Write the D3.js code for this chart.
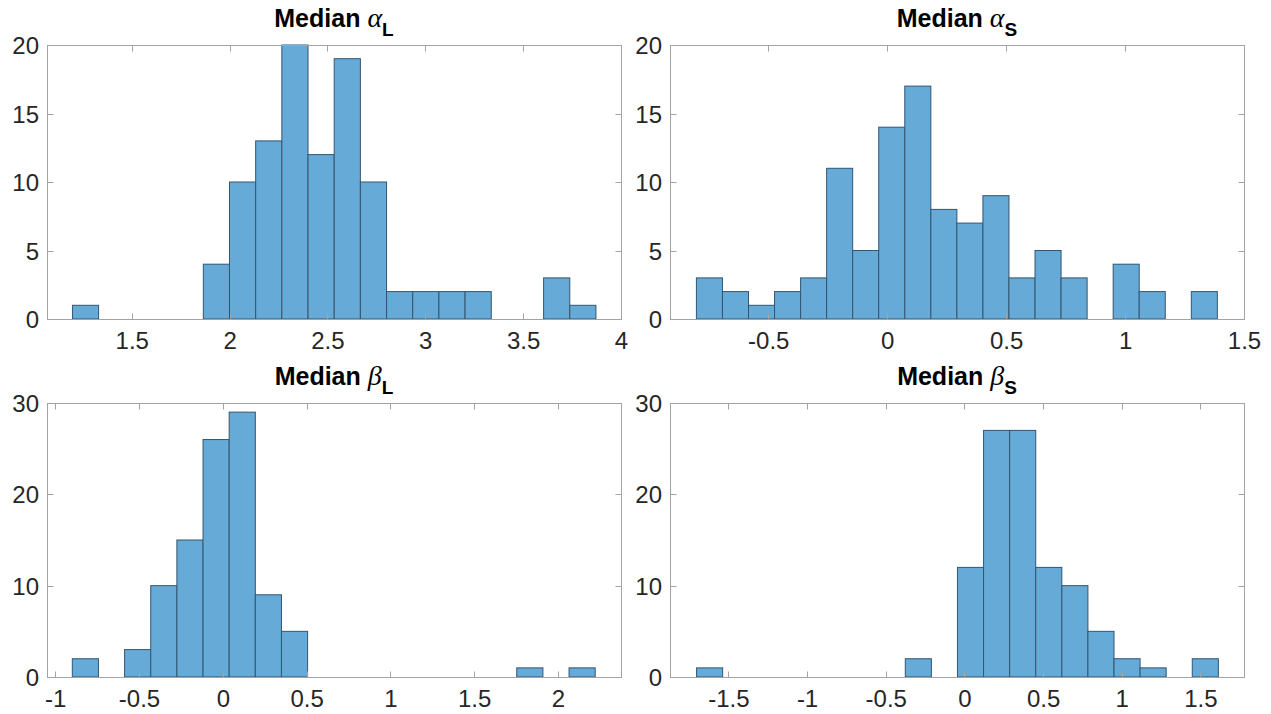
<!DOCTYPE html>
<html>
<head>
<meta charset="utf-8">
<script src="https://cdn.jsdelivr.net/npm/d3@7"></script>
<style>
  body { margin: 0; background: #fff; }
  svg { display: block; }
</style>
</head>
<body>
<script>
// Chart size
const width = 1271;
const height = 714;

// Histogram data (20 bins per panel)
const alphaLStart = 1.197, alphaLWidth = 0.13375;
const alphaLCounts = [1, 0, 0, 0, 0, 4, 10, 13, 20, 12, 19, 10, 2, 2, 2, 2, 0, 0, 3, 1];
const alphaLXlim = [1.067, 4];
const alphaLTicks = [1.5, 2, 2.5, 3, 3.5, 4];

const alphaSStart = -0.802, alphaSWidth = 0.1095;
const alphaSCounts = [3, 2, 1, 2, 3, 11, 5, 14, 17, 8, 7, 9, 3, 5, 3, 0, 4, 2, 0, 2];
const alphaSXlim = [-0.913, 1.5];
const alphaSTicks = [-0.5, 0, 0.5, 1, 1.5];

const betaLStart = -0.898, betaLWidth = 0.156;
const betaLCounts = [2, 0, 3, 10, 15, 26, 29, 9, 5, 0, 0, 0, 0, 0, 0, 0, 0, 1, 0, 1];
const betaLXlim = [-1.049, 2.376];
const betaLTicks = [-1, -0.5, 0, 0.5, 1, 1.5, 2];

const betaSStart = -1.702, betaSWidth = 0.1658;
const betaSCounts = [1, 0, 0, 0, 0, 0, 0, 0, 2, 0, 12, 27, 27, 12, 10, 5, 2, 1, 0, 2];
const betaSXlim = [-1.871, 1.777];
const betaSTicks = [-1.5, -1, -0.5, 0, 0.5, 1, 1.5];

const topYTicks = [0, 5, 10, 15, 20];
const bottomYTicks = [0, 10, 20, 30];

// Panel definitions (layout kept separate from the data)
const panels = [
  { greek: "\u03b1", sub: "L", start: alphaLStart, w: alphaLWidth, counts: alphaLCounts, xlim: alphaLXlim, xticks: alphaLTicks, ymax: 20, yticks: topYTicks, box: [47, 45, 621, 319] },
  { greek: "\u03b1", sub: "S", start: alphaSStart, w: alphaSWidth, counts: alphaSCounts, xlim: alphaSXlim, xticks: alphaSTicks, ymax: 20, yticks: topYTicks, box: [670, 45, 1244, 319] },
  { greek: "\u03b2", sub: "L", start: betaLStart, w: betaLWidth, counts: betaLCounts, xlim: betaLXlim, xticks: betaLTicks, ymax: 30, yticks: bottomYTicks, box: [47, 403, 621, 677] },
  { greek: "\u03b2", sub: "S", start: betaSStart, w: betaSWidth, counts: betaSCounts, xlim: betaSXlim, xticks: betaSTicks, ymax: 30, yticks: bottomYTicks, box: [670, 403, 1244, 677] }
];

const svg = d3.select("body").append("svg")
  .attr("width", width)
  .attr("height", height);

const boxColor = "#a3a3a3";
const textColor = "#262626";
const tickLen = 6;

panels.forEach(p => {
  const [x0, y0, x1, y1] = p.box;
  const x = d3.scaleLinear().domain(p.xlim).range([x0, x1]);
  const y = d3.scaleLinear().domain([0, p.ymax]).range([y1, y0]);

  const g = svg.append("g");

  // bins
  const bins = p.counts.map((c, i) => ({ lo: p.start + i * p.w, hi: p.start + (i + 1) * p.w, c }))
    .filter(b => b.c > 0);

  g.selectAll("rect.bar")
    .data(bins)
    .enter()
    .append("rect")
    .attr("class", "bar")
    .attr("x", d => x(d.lo))
    .attr("y", d => y(d.c))
    .attr("width", d => x(d.hi) - x(d.lo))
    .attr("height", d => y(0) - y(d.c))
    .attr("fill", "#66aad7")
    .attr("stroke", "#34556f")
    .attr("stroke-width", 1);

  // box
  g.append("rect")
    .attr("x", x0 + 0.5)
    .attr("y", y0 + 0.5)
    .attr("width", x1 - x0)
    .attr("height", y1 - y0)
    .attr("fill", "none")
    .attr("stroke", boxColor)
    .attr("stroke-width", 1);

  // x axis ticks (inside, bottom and top) and labels
  const xAxis = d3.axisBottom(x).tickValues(p.xticks).tickSize(0).tickPadding(0).tickFormat(d => String(d));
  const xg = g.append("g").attr("transform", `translate(0,${y1})`).call(xAxis);
  xg.select(".domain").remove();
  xg.selectAll("text")
    .attr("y", 30)
    .attr("dy", null)
    .style("font-family", "'Liberation Sans', Arial, sans-serif")
    .style("font-size", "24px")
    .style("fill", textColor);

  g.selectAll("line.xt")
    .data(p.xticks.flatMap(t => [[t, y1, y1 - tickLen], [t, y0, y0 + tickLen]]))
    .enter()
    .append("line")
    .attr("class", "xt")
    .attr("x1", d => Math.round(x(d[0])) + 0.5)
    .attr("x2", d => Math.round(x(d[0])) + 0.5)
    .attr("y1", d => d[1] + 0.5)
    .attr("y2", d => d[2] + 0.5)
    .attr("stroke", boxColor);

  // y axis ticks and labels
  const yAxis = d3.axisLeft(y).tickValues(p.yticks).tickSize(0).tickPadding(8).tickFormat(d => String(d));
  const yg = g.append("g").attr("transform", `translate(${x0},0)`).call(yAxis);
  yg.select(".domain").remove();
  yg.selectAll("text")
    .attr("dy", "0.36em")
    .style("font-family", "'Liberation Sans', Arial, sans-serif")
    .style("font-size", "24px")
    .style("fill", textColor);

  g.selectAll("line.yt")
    .data(p.yticks.flatMap(t => [[t, x0, x0 + tickLen], [t, x1, x1 - tickLen]]))
    .enter()
    .append("line")
    .attr("class", "yt")
    .attr("y1", d => Math.round(y(d[0])) + 0.5)
    .attr("y2", d => Math.round(y(d[0])) + 0.5)
    .attr("x1", d => d[1] + 0.5)
    .attr("x2", d => d[2] + 0.5)
    .attr("stroke", boxColor);

  // title: Median <greek>_<sub>
  const title = g.append("text")
    .attr("x", (x0 + x1) / 2)
    .attr("y", y0 - 18)
    .attr("text-anchor", "middle")
    .style("fill", "#000");
  title.append("tspan")
    .text("Median ")
    .style("font-family", "'Liberation Sans', Arial, sans-serif")
    .style("font-weight", "bold")
    .style("font-size", "25px");
  title.append("tspan")
    .text(p.greek)
    .style("font-family", "'Liberation Serif', 'DejaVu Serif', serif")
    .style("font-style", "italic")
    .style("font-size", "28px");
  title.append("tspan")
    .text(p.sub)
    .attr("dy", 9)
    .style("font-family", "'Liberation Sans', Arial, sans-serif")
    .style("font-weight", "bold")
    .style("font-size", "19px");
});
</script>
</body>
</html>
